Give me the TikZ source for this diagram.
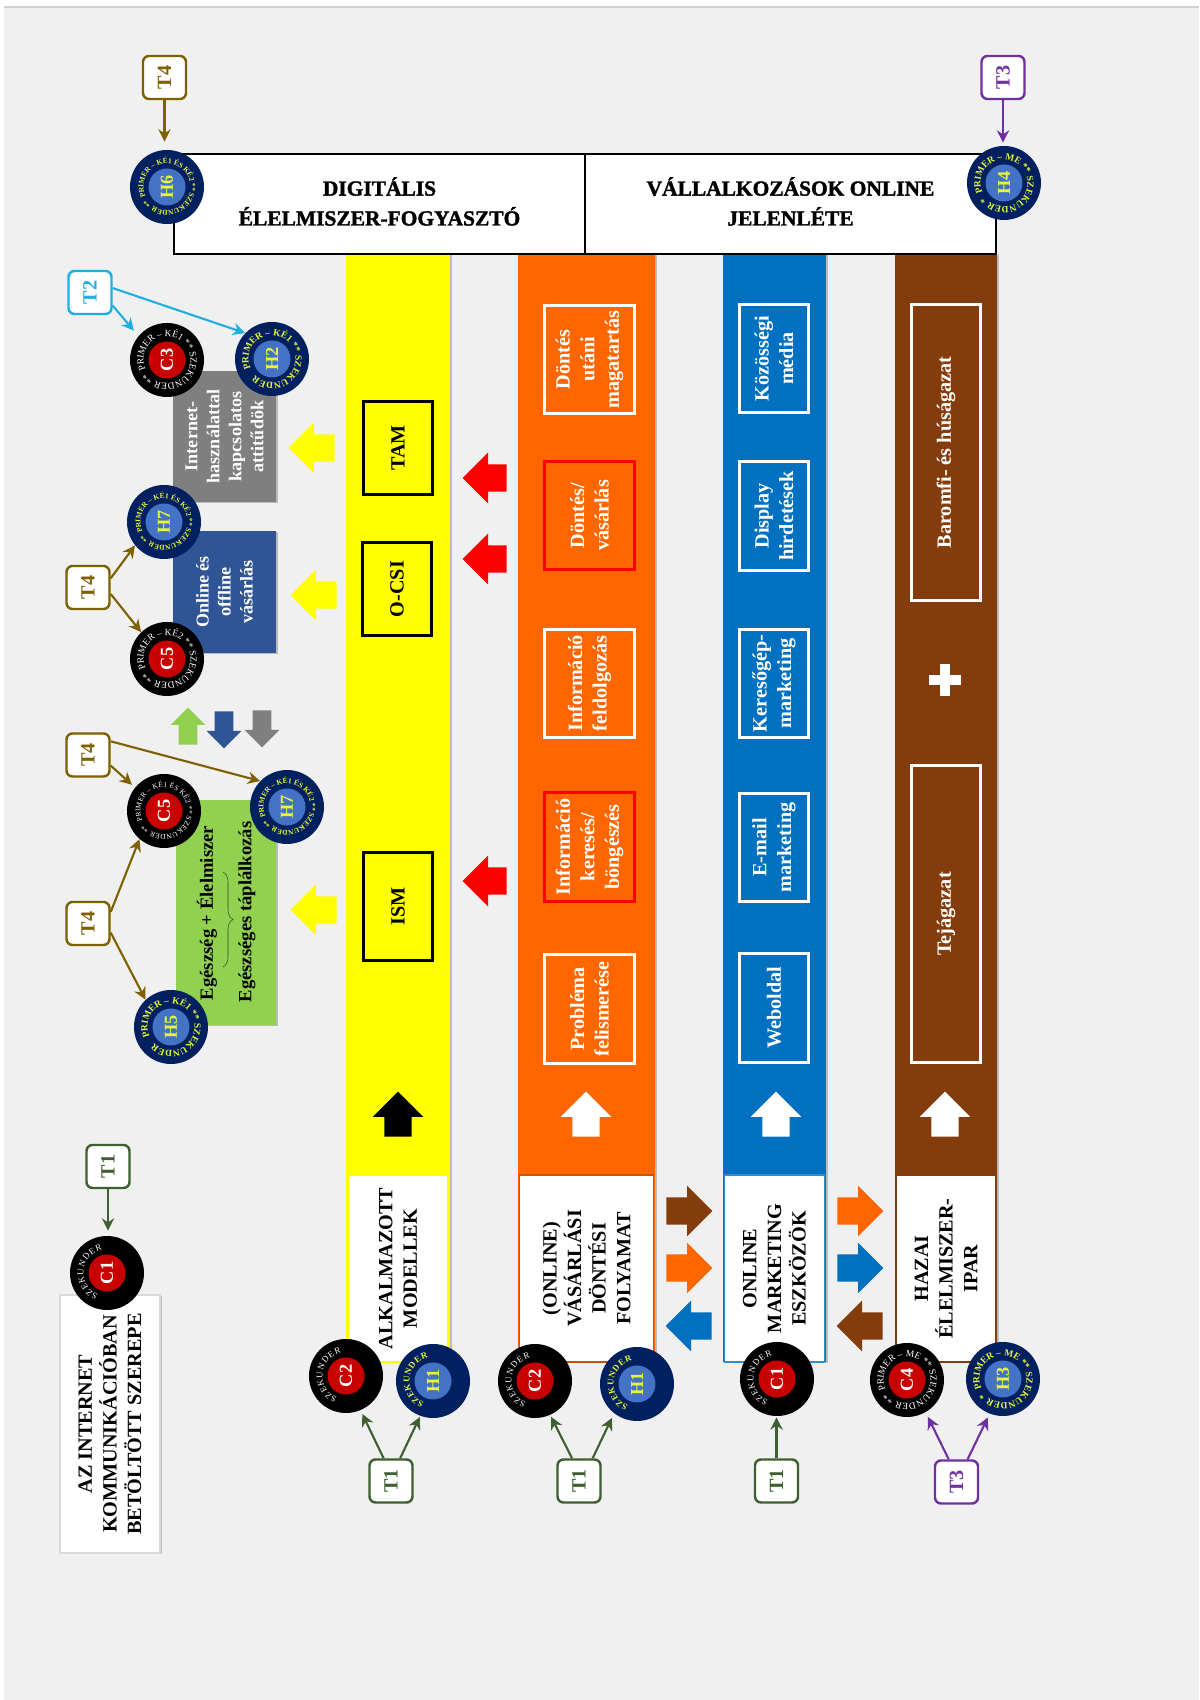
\documentclass[tikz,border=0pt]{standalone}
\usepackage{fontspec}
\setmainfont{Liberation Serif}
\newfontfamily\headfont[FakeBold=1.6]{Liberation Serif Bold}
\usetikzlibrary{positioning,arrows.meta,shapes.arrows,shadows,decorations.text,decorations.pathreplacing}

\definecolor{pagegray}{HTML}{F0F0F0}
\definecolor{bandyellow}{HTML}{FFFF00}
\definecolor{bandorange}{HTML}{FF6600}
\definecolor{bandblue}{HTML}{0070C0}
\definecolor{bandbrown}{HTML}{843C0C}
\definecolor{boxgreen}{HTML}{92D050}
\definecolor{boxblue}{HTML}{2F5597}
\definecolor{boxgray}{HTML}{7F7F7F}
\definecolor{arrowred}{HTML}{FF0000}
\definecolor{tone}{HTML}{3F5F30}
\definecolor{ttwo}{HTML}{1FAEE0}
\definecolor{tthree}{HTML}{7030A0}
\definecolor{tfour}{HTML}{7F6000}
\definecolor{hnavy}{HTML}{002060}
\definecolor{hblue}{HTML}{4472C4}
\definecolor{hyellow}{HTML}{E8F53A}
\definecolor{cred}{HTML}{C80000}

\newcommand{\labfont}{\fontsize{11.5}{14}\selectfont\bfseries}
\newcommand{\smallfont}{\fontsize{10.3}{12.5}\selectfont\bfseries}
\newcommand{\ringbig}{\fontsize{5.4}{6}\selectfont}
\newcommand{\ringsmall}{\fontsize{4.2}{5}\selectfont}
\newcommand{\ringside}{\fontsize{5}{6}\selectfont}

\tikzset{
  softshadow/.style={drop shadow={shadow xshift=0.04cm,shadow yshift=-0.02cm,fill=black,opacity=.22}},
  rotlabel/.style={rotate=90,align=center,font=\labfont,inner sep=0pt},
  sidelabel/.style={rotlabel,fill=white,line width=1.1pt},
  itembox/.style={rotlabel,text=white,line width=1.5pt,minimum width=2.17cm,minimum height=1.81cm},
  modelbox/.style={rotlabel,draw=black,line width=1.5pt,minimum height=1.39cm},
  sidebox/.style={rotlabel,text=white,font=\smallfont,softshadow},
  headbox/.style={draw=black,line width=0.8pt,fill=white,minimum width=8.22cm,minimum height=2cm,align=center,
    text depth=3pt,font=\headfont\fontsize{12.2}{17}\selectfont},
  tbox/.style={rotate=90,rounded corners=0.12cm,fill=white,line width=1.4pt,inner sep=0pt,
    minimum size=0.86cm,font=\labfont},
  conn/.style={line width=1.2pt,-{Stealth[length=7pt,width=7pt]}},
  blockarrow/.style={single arrow,anchor=tail,inner xsep=0pt,inner ysep=0.265cm,minimum height=0.92cm,
    single arrow head extend=0.235cm},
  smallarrow/.style={single arrow,anchor=tail,inner xsep=0pt,inner ysep=0.18cm,minimum height=0.74cm,
    single arrow head extend=0.16cm}
}

\newcommand{\ringtext}[5]{%
  \path[decorate,decoration={text along path,text align={fit to path},text={|#1|#2}}]
    (#3) ++(#4:0.47) arc (#4:#5:0.47);}
\newcommand{\badge}[6]{%
  \node[circle,fill=#4,inner sep=0pt,minimum size=1.48cm] (#1) at (#2) {};
  \node[circle,fill=#5,inner sep=0pt,minimum size=0.74cm,rotate=90,text=#6,
    font=\fontsize{10.4}{12}\selectfont\bfseries] (#1lab) at (#1) {#3};}
\newcommand{\hbadge}[5]{\badge{#1}{#2}{#3}{hnavy}{hblue}{hyellow}%
  \ringtext{\bfseries#4\color{hyellow}}{#5}{#1}{205}{-146}}
\newcommand{\cbadge}[5]{\badge{#1}{#2}{#3}{black}{cred}{white}%
  \ringtext{#4\color{white}}{#5}{#1}{205}{-146}}

\begin{document}
\begin{tikzpicture}[x=1cm,y=1cm]
  \useasboundingbox (0,0) rectangle (23.98,34);
  \fill[white] (0,0) rectangle (23.98,34);
  \fill[pagegray] (0.08,0) rectangle (23.98,33.86);
  \fill[black!18] (0.08,33.84) rectangle (23.98,33.88);

  \fill[bandyellow,softshadow] (6.92,6.76) rectangle (9,28.92);
  \fill[bandorange,softshadow] (10.36,6.76) rectangle (13.1,28.92);
  \fill[bandblue,softshadow] (14.46,6.76) rectangle (16.52,28.92);
  \fill[bandbrown,softshadow] (17.9,6.76) rectangle (19.94,28.92);

  \node[headbox] (digital) at (7.59,29.92) {DIGITÁLIS\\ÉLELMISZER-FOGYASZTÓ};
  \node[headbox] (online) at (15.81,29.92) {VÁLLALKOZÁSOK ONLINE\\JELENLÉTE};

  \node[sidelabel,draw=bandyellow,minimum width=3.74cm,minimum height=2cm] (models) at (7.96,8.63)
    {ALKALMAZOTT\\MODELLEK};
  \node[sidelabel,draw=bandorange!80!black,minimum width=3.74cm,minimum height=2.68cm] (process) at (11.73,8.63)
    {(ONLINE)\\VÁSÁRLÁSI\\DÖNTÉSI\\FOLYAMAT};
  \node[sidelabel,draw=bandblue!80!white,minimum width=3.74cm,minimum height=2cm] (tools) at (15.49,8.63)
    {ONLINE\\MARKETING\\ESZKÖZÖK};
  \node[sidelabel,draw=bandbrown,minimum width=3.74cm,minimum height=2cm] (industry) at (18.92,8.63)
    {HAZAI\\ÉLELMISZER-\\IPAR};
  \node[sidelabel,draw=black!15,softshadow,minimum width=5.16cm,minimum height=2cm] (role) at (2.2,5.52)
    {AZ INTERNET\\KOMMUNIKÁCIÓBAN\\BETÖLTÖTT SZEREPE};

  \node[modelbox,minimum width=1.87cm] (tam) at (7.96,25.04) {TAM};
  \node[modelbox,minimum width=1.87cm] (ocsi) at (7.94,22.22) {O-CSI};
  \node[modelbox,minimum width=2.15cm] (ism) at (7.96,15.87) {ISM};

  \foreach \ypos/\txt/\col [count=\i] in {26.81/{Döntés\\utáni\\magatartás}/white,
      23.69/{Döntés/\\vásárlás}/arrowred,
      20.33/{Információ\\feldolgozás}/white,
      17.06/{Információ\\keresés/\\böngészés}/arrowred,
      13.82/{Probléma\\felismerése}/white}
    \node[itembox,draw=\col] (step\i) at (11.79,\ypos) {\txt};

  \foreach \ypos/\txt [count=\i] in {26.83/{Közösségi\\média},
      23.68/{Display\\hirdetések},
      20.33/{Keresőgép-\\marketing},
      17.05/{E-mail\\marketing},
      13.84/{Weboldal}}
    \node[itembox,draw=white,minimum height=1.39cm] (tool\i) at (15.48,\ypos) {\txt};

  \node[itembox,draw=white,minimum width=5.93cm,minimum height=1.39cm] (meat) at (18.92,24.95) {Baromfi- és húságazat};
  \node[itembox,draw=white,minimum width=5.95cm,minimum height=1.39cm] (dairy) at (18.92,15.72) {Tejágazat};
  \node[fill=white,inner sep=0pt,minimum width=0.64cm,minimum height=0.2cm] (plusa) at (18.9,20.4) {};
  \node[fill=white,inner sep=0pt,minimum width=0.2cm,minimum height=0.64cm] (plusb) at (18.9,20.4) {};

  \node[sidebox,fill=boxgray,minimum width=2.62cm,minimum height=2.06cm] (attitude) at (4.49,25.27)
    {Internet-\\használattal\\kapcsolatos\\attitűdök};
  \node[sidebox,fill=boxblue,minimum width=2.44cm,minimum height=2.06cm] (shopping) at (4.49,22.16)
    {Online és\\offline\\vásárlás};
  \node[fill=boxgreen,softshadow,inner sep=0pt,minimum width=2cm,minimum height=4.5cm] (health) at (4.52,15.75) {};
  \node[rotlabel,font=\fontsize{10.6}{12}\selectfont\bfseries] (healthfood) at (4.14,15.74) {Egészség + Élelmiszer};
  \node[rotlabel,font=\fontsize{10.6}{12}\selectfont\bfseries] (healthdiet) at (4.94,15.76) {Egészséges táplálkozás};
  \draw[tone!80!black,line width=0.3pt,decorate,decoration={brace,amplitude=0.2cm}] (4.46,16.56) -- (4.46,14.66);

  \node[blockarrow,fill=bandyellow,rotate=180] (yarrowa) at (6.7,25.04) {};
  \node[blockarrow,fill=bandyellow,rotate=180] (yarrowb) at (6.74,22.1) {};
  \node[blockarrow,fill=bandyellow,rotate=180] (yarrowc) at (6.74,15.8) {};
  \foreach \ypos [count=\i] in {24.44,22.82,16.38}
    \node[blockarrow,fill=arrowred,rotate=180,minimum height=0.88cm] (redarrow\i) at (10.14,\ypos) {};
  \foreach \xpos/\col [count=\i] in {7.96/black,11.72/white,15.52/white,18.9/white}
    \node[blockarrow,fill=\col,rotate=90,minimum height=0.9cm] (uparrow\i) at (\xpos,11.26) {};

  \node[blockarrow,fill=bandbrown] (arrowa) at (13.32,9.78) {};
  \node[blockarrow,fill=bandorange] (arrowb) at (13.32,8.64) {};
  \node[blockarrow,fill=bandblue,rotate=180] (arrowc) at (14.24,7.48) {};
  \node[blockarrow,fill=bandorange] (arrowd) at (16.74,9.78) {};
  \node[blockarrow,fill=bandblue] (arrowe) at (16.74,8.64) {};
  \node[blockarrow,fill=bandbrown,rotate=180] (arrowf) at (17.66,7.48) {};

  \node[smallarrow,fill=boxgreen,rotate=90] (smallgreen) at (3.76,19.1) {};
  \node[smallarrow,fill=boxblue,rotate=-90] (smallblue) at (4.48,19.78) {};
  \node[smallarrow,fill=boxgray,rotate=-90] (smallgray) at (5.24,19.8) {};

  \hbadge{h6}{3.34,30.26}{H6}{\ringsmall}{PRIMER – KÉ1 ÉS KÉ2 ** SZEKUNDER **}
  \hbadge{h4}{20.08,30.34}{H4}{\ringbig}{PRIMER – ME ** SZEKUNDER **}
  \cbadge{c3}{3.34,26.8}{C3}{\ringbig}{PRIMER – KÉ1 ** SZEKUNDER **}
  \hbadge{h2}{5.44,26.82}{H2}{\ringbig}{PRIMER – KÉ1 ** SZEKUNDER **}
  \hbadge{h7a}{3.28,23.56}{H7}{\ringsmall}{PRIMER – KÉ1 ÉS KÉ2 ** SZEKUNDER **}
  \cbadge{c5a}{3.34,20.82}{C5}{\ringbig}{PRIMER – KÉ2 ** SZEKUNDER **}
  \cbadge{c5b}{3.28,17.78}{C5}{\ringsmall}{PRIMER – KÉ1 ÉS KÉ2 ** SZEKUNDER **}
  \hbadge{h7b}{5.74,17.86}{H7}{\ringsmall}{PRIMER – KÉ1 ÉS KÉ2 ** SZEKUNDER **}
  \hbadge{h5}{3.42,13.46}{H5}{\ringbig}{PRIMER – KÉ1 ** SZEKUNDER **}
  \cbadge{c4}{18.14,6.4}{C4}{\ringbig}{PRIMER – ME ** SZEKUNDER **}
  \hbadge{h3}{20.06,6.42}{H3}{\ringbig}{PRIMER – ME ** SZEKUNDER **}

  \badge{c1a}{2.14,8.54}{C1}{black}{cred}{white}
  \badge{c2a}{6.92,6.48}{C2}{black}{cred}{white}
  \badge{c2b}{10.7,6.38}{C2}{black}{cred}{white}
  \badge{c1b}{15.54,6.42}{C1}{black}{cred}{white}
  \badge{h1a}{8.66,6.38}{H1}{hnavy}{hblue}{hyellow}
  \badge{h1b}{12.74,6.32}{H1}{hnavy}{hblue}{hyellow}
  \ringtext{\ringside\color{white}}{SZEKUNDER}{c1a}{248}{102}
  \ringtext{\ringside\color{white}}{SZEKUNDER}{c2a}{248}{102}
  \ringtext{\ringside\color{white}}{SZEKUNDER}{c2b}{248}{102}
  \ringtext{\ringside\color{white}}{SZEKUNDER}{c1b}{248}{102}
  \ringtext{\bfseries\ringside\color{hyellow}}{SZEKUNDER}{h1a}{248}{102}
  \ringtext{\bfseries\ringside\color{hyellow}}{SZEKUNDER}{h1b}{248}{102}

  \node[tbox,draw=tfour,text=tfour] (tfoura) at (3.29,32.45) {T4};
  \node[tbox,draw=tthree,text=tthree] (tthreea) at (20.06,32.45) {T3};
  \node[tbox,draw=ttwo,text=ttwo] (ttwoa) at (1.8,28.15) {T2};
  \node[tbox,draw=tfour,text=tfour] (tfourb) at (1.76,22.25) {T4};
  \node[tbox,draw=tfour,text=tfour] (tfourc) at (1.76,18.9) {T4};
  \node[tbox,draw=tfour,text=tfour] (tfourd) at (1.76,15.53) {T4};
  \node[tbox,draw=tone,text=tone] (tonea) at (2.16,10.67) {T1};
  \node[tbox,draw=tone,text=tone] (toneb) at (7.82,4.38) {T1};
  \node[tbox,draw=tone,text=tone] (tonec) at (11.58,4.38) {T1};
  \node[tbox,draw=tone,text=tone] (toned) at (15.53,4.38) {T1};
  \node[tbox,draw=tthree,text=tthree] (tthreeb) at (19.13,4.36) {T3};

  \draw[conn,tfour,shorten >=0.16cm] (tfoura.west) -- (tfoura.west |- h6.north);
  \draw[conn,tthree,shorten >=0.06cm] (tthreea.west) -- (tthreea.west |- h4.north);
  \draw[conn,ttwo,shorten >=0.14cm] (ttwoa.-120) -- (c3.140);
  \draw[conn,ttwo] (ttwoa.-79) -- (h2.136);
  \draw[conn,tfour] (tfourb.-68) -- (h7a.219);
  \draw[conn,tfour] (tfourb.-106) -- (c5a.134);
  \draw[conn,tfour,shorten >=0.08cm] (tfourc.-115) -- (c5b.141);
  \draw[conn,tfour] (tfourc.-59) -- (h7b.136);
  \draw[conn,tfour] (tfourd.-63) -- (c5b.229);
  \draw[conn,tfour] (tfourd.-112) -- (h5.133);
  \draw[conn,tone,shorten >=0.1cm] (tonea.west) -- (tonea.west |- c1a.north);
  \draw[conn,tone,shorten >=0.08cm] (toneb.18) -- (c2a.-67);
  \draw[conn,tone,shorten >=0.02cm] (toneb.-22) -- (h1a.-110);
  \draw[conn,tone,shorten >=0.04cm] (tonec.17) -- (c2b.-66);
  \draw[conn,tone,shorten >=0.1cm] (tonec.-31) -- (h1b.-128);
  \draw[conn,tone,shorten >=0.02cm] (toned.east) -- (toned.east |- c1b.south);
  \draw[conn,tthree,shorten >=0.1cm] (tthreeb.19) -- (c4.-60);
  \draw[conn,tthree,shorten >=0.08cm] (tthreeb.-26) -- (h3.-111);
\end{tikzpicture}
\end{document}
